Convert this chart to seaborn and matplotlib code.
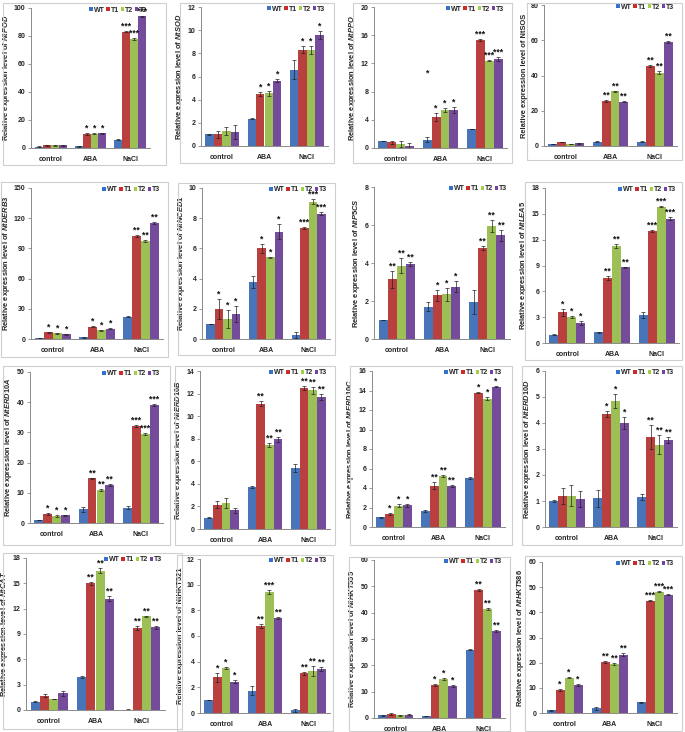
import matplotlib
matplotlib.use("Agg")
import matplotlib.pyplot as plt
import seaborn as sns
import pandas as pd
import numpy as np
from matplotlib.patches import Patch, Rectangle

sns.set_style("white")
plt.rcParams['font.family'] = ['Liberation Sans', 'DejaVu Sans']
plt.rcParams['font.weight'] = 'bold'
plt.rcParams['mathtext.fontset'] = 'custom'
plt.rcParams['mathtext.it'] = 'Liberation Sans:italic:bold'
plt.rcParams['mathtext.rm'] = 'Liberation Sans:bold'

treatments = ["control", "ABA", "NaCl"]
genotypes = ["WT", "T1", "T2", "T3"]
colores = ["#3571cc", "#cf2a2a", "#a2d244", "#763fa8"]

# valores: control(WT,T1,T2,T3), ABA(...), NaCl(...)
pod_mean = [1.0, 1.8, 1.8, 1.8, 1.2, 10.0, 10.2, 10.5, 6.0, 83.0, 78.0, 94.0]
pod_err = [0.1, 0.2, 0.2, 0.2, 0.2, 0.5, 0.3, 0.3, 0.4, 0.5, 0.6, 0.4]
pod_sig = ["", "", "", "", "", "*", "*", "*", "", "***", "***", "***"]

sod_mean = [1.0, 1.0, 1.3, 1.2, 2.35, 4.5, 4.55, 5.65, 6.6, 8.3, 8.3, 9.55]
sod_err = [0.03, 0.3, 0.35, 0.6, 0.03, 0.15, 0.2, 0.1, 0.8, 0.3, 0.35, 0.35]
sod_sig = ["", "", "", "", "", "*", "*", "*", "", "*", "*", "*"]

ppo_mean = [1.0, 0.8, 0.6, 0.35, 1.2, 4.4, 5.4, 5.4, 2.7, 15.3, 12.4, 12.6]
ppo_err = [0.05, 0.2, 0.4, 0.35, 0.4, 0.5, 0.3, 0.4, 0.05, 0.15, 0.05, 0.25]
ppo_sig = ["", "", "", "", "", "*", "*", "*", "", "***", "***", "***"]
# asterisco suelto sobre WT/ABA en NtPPO (indice de barra, altura)
ppo_extra = [(4, 10.0)]

sos_mean = [1.0, 2.2, 1.0, 1.5, 2.5, 25.5, 31.0, 25.0, 2.5, 45.5, 41.5, 59.0]
sos_err = [0.1, 0.2, 0.1, 0.2, 0.2, 0.4, 0.4, 0.3, 0.2, 0.4, 0.8, 0.4]
sos_sig = ["", "", "", "", "", "**", "**", "**", "", "**", "**", "**"]

derb3_mean = [1.0, 6.5, 5.5, 4.5, 1.5, 12.0, 8.5, 10.0, 22.0, 102.5, 97.5, 115.0]
derb3_err = [0.1, 0.4, 0.4, 0.4, 0.2, 0.5, 0.5, 0.5, 0.5, 0.8, 0.8, 0.8]
derb3_sig = ["", "*", "*", "*", "", "*", "*", "*", "", "**", "**", "**"]

nced1_mean = [1.0, 2.0, 1.35, 1.65, 3.8, 6.0, 5.4, 7.1, 0.25, 7.35, 9.1, 8.3]
nced1_err = [0.02, 0.65, 0.6, 0.55, 0.4, 0.3, 0.03, 0.5, 0.2, 0.05, 0.15, 0.1]
nced1_sig = ["", "*", "*", "*", "", "*", "*", "*", "", "***", "***", "***"]

p5cs_mean = [1.0, 3.15, 3.85, 3.95, 1.7, 2.3, 2.35, 2.75, 1.95, 4.8, 5.95, 5.45]
p5cs_err = [0.02, 0.45, 0.4, 0.1, 0.25, 0.3, 0.35, 0.3, 0.65, 0.1, 0.3, 0.3]
p5cs_sig = ["", "**", "**", "**", "", "*", "*", "*", "", "**", "**", "**"]

lea5_mean = [0.95, 3.55, 3.0, 2.35, 1.25, 7.55, 11.3, 8.8, 3.25, 13.0, 15.85, 14.45]
lea5_err = [0.05, 0.4, 0.15, 0.25, 0.05, 0.2, 0.25, 0.05, 0.35, 0.1, 0.1, 0.15]
lea5_sig = ["", "*", "*", "*", "", "**", "**", "**", "", "***", "***", "***"]

erd10a_mean = [1.0, 3.0, 2.2, 2.5, 4.5, 14.8, 11.0, 12.7, 5.1, 32.0, 29.5, 39.0]
erd10a_err = [0.1, 0.3, 0.3, 0.3, 0.7, 0.2, 0.3, 0.3, 0.5, 0.3, 0.2, 0.4]
erd10a_sig = ["", "*", "*", "*", "", "**", "**", "**", "", "***", "***", "***"]

erd10b_mean = [1.0, 2.15, 2.3, 1.65, 3.75, 11.1, 7.45, 7.95, 5.4, 12.5, 12.3, 11.7]
erd10b_err = [0.03, 0.3, 0.45, 0.2, 0.1, 0.2, 0.2, 0.2, 0.35, 0.2, 0.3, 0.25]
erd10b_sig = ["", "", "", "", "", "**", "**", "**", "", "**", "**", "**"]

erd10c_mean = [1.0, 1.35, 2.2, 2.25, 1.6, 4.25, 5.2, 4.2, 5.0, 13.75, 13.15, 14.4]
erd10c_err = [0.03, 0.1, 0.15, 0.15, 0.1, 0.35, 0.1, 0.1, 0.1, 0.05, 0.15, 0.05]
erd10c_sig = ["", "*", "*", "*", "", "**", "**", "**", "", "*", "*", "*"]

erd10d_mean = [1.0, 1.2, 1.2, 1.08, 1.1, 4.35, 4.85, 4.0, 1.15, 3.47, 3.17, 3.35]
erd10d_err = [0.02, 0.3, 0.4, 0.32, 0.33, 0.1, 0.27, 0.22, 0.12, 0.47, 0.38, 0.1]
erd10d_sig = ["", "", "", "", "", "*", "*", "*", "", "**", "**", "**"]

cat_mean = [1.0, 1.7, 1.3, 2.0, 3.9, 15.0, 16.5, 13.2, 0.05, 9.75, 11.1, 9.8]
cat_err = [0.05, 0.15, 0.05, 0.3, 0.15, 0.15, 0.3, 0.25, 0.02, 0.25, 0.05, 0.2]
cat_sig = ["", "", "", "", "", "**", "**", "**", "", "**", "**", "**"]

hkt521_mean = [1.0, 2.8, 3.5, 2.45, 1.75, 6.8, 9.4, 7.4, 0.2, 3.1, 3.25, 3.45]
hkt521_err = [0.02, 0.35, 0.05, 0.15, 0.35, 0.15, 0.15, 0.08, 0.15, 0.1, 0.4, 0.15]
hkt521_sig = ["", "*", "*", "*", "", "**", "***", "**", "", "**", "**", "**"]

hkt555_mean = [1.0, 1.5, 1.0, 1.3, 0.7, 12.5, 14.8, 12.2, 26.0, 48.5, 41.5, 33.0]
hkt555_err = [0.1, 0.3, 0.3, 0.3, 0.1, 0.3, 0.3, 0.3, 0.2, 0.3, 0.3, 0.4]
hkt555_sig = ["", "", "", "", "", "*", "*", "*", "", "**", "**", "**"]

hkt586_mean = [1.0, 9.3, 14.0, 11.3, 1.8, 20.2, 19.4, 23.2, 4.2, 44.6, 48.2, 47.0]
hkt586_err = [0.1, 0.4, 0.2, 0.4, 0.5, 0.4, 0.3, 0.6, 0.2, 0.2, 0.3, 0.2]
hkt586_sig = ["", "*", "*", "*", "", "**", "**", "**", "", "***", "***", "***"]

# (gen, cursiva, media, error, sig, extra, ymax, paso, ejes px, marco px)
paneles = [
    ("NtPOD", True, pod_mean, pod_err, pod_sig, [], 100, 20, (31, 8, 150, 148), (3, 3, 166, 165)),
    ("NtSOD", True, sod_mean, sod_err, sod_sig, [], 12, 2, (201, 7, 328, 146), (180, 3, 334, 163)),
    ("NtPPO", True, ppo_mean, ppo_err, ppo_sig, ppo_extra, 20, 4, (374, 7, 507, 148), (353, 3, 512, 163)),
    ("NtSOS", False, sos_mean, sos_err, sos_sig, [], 80, 20, (544, 5, 677, 146), (527, 3, 682, 160)),
    ("NtDERB3", True, derb3_mean, derb3_err, derb3_sig, [], 150, 30, (31, 188, 163, 339), (1, 182, 168, 357)),
    ("NtNCED1", True, nced1_mean, nced1_err, nced1_sig, [], 10, 2, (202, 188, 330, 339), (178, 183, 335, 355)),
    ("NtP5CS", True, p5cs_mean, p5cs_err, p5cs_sig, [], 8, 2, (374, 187, 510, 339), None),
    ("NtLEA5", True, lea5_mean, lea5_err, lea5_sig, [], 18, 3, (545, 188, 679, 343), (525, 182, 682, 360)),
    ("NtERD10A", True, erd10a_mean, erd10a_err, erd10a_sig, [], 50, 10, (30, 372, 163, 523), (3, 366, 170, 545)),
    ("NtERD10B", True, erd10b_mean, erd10b_err, erd10b_sig, [], 14, 2, (200, 371, 330, 529), (175, 366, 335, 545)),
    ("NtERD10C", True, erd10c_mean, erd10c_err, erd10c_sig, [], 16, 2, (372, 371, 505, 527), (350, 366, 512, 545)),
    ("NtERD10D", True, erd10d_mean, erd10d_err, erd10d_sig, [], 6, 1, (545, 371, 677, 527), (522, 366, 682, 545)),
    ("NtCAT", True, cat_mean, cat_err, cat_sig, [], 18, 3, (26, 558, 165, 710), (3, 553, 182, 729)),
    ("NtHKT521", False, hkt521_mean, hkt521_err, hkt521_sig, [], 12, 2, (200, 559, 330, 713), (177, 555, 333, 731)),
    ("NtHKT555", True, hkt555_mean, hkt555_err, hkt555_sig, [], 60, 10, (374, 560, 505, 718), (349, 557, 510, 731)),
    ("NtHKT586", True, hkt586_mean, hkt586_err, hkt586_sig, [], 60, 10, (542, 562, 677, 713), (525, 556, 682, 731)),
]

W, H = 685, 732
fig = plt.figure(figsize=(W / 100, H / 100), dpi=100)

for gen, cursiva, media, error, sig, extra, ymax, paso, caja, marco in paneles:
    if marco:
        x0, y0, x1, y1 = marco
        fig.patches.append(Rectangle((x0 / W, 1 - y1 / H), (x1 - x0) / W, (y1 - y0) / H,
                                     transform=fig.transFigure, fill=False,
                                     edgecolor="#cfcfcf", linewidth=0.8))
    l, t, r, b = caja
    ax = fig.add_axes([l / W, 1 - b / H, (r - l) / W, (b - t) / H])

    df = pd.DataFrame({"tratamiento": np.repeat(treatments, 4),
                       "linea": genotypes * 3,
                       "valor": media})
    sns.barplot(data=df, x="tratamiento", y="valor", hue="linea", palette=colores,
                errorbar=None, width=0.8, legend=False, ax=ax)

    centros = {}
    for hi, cont in enumerate(ax.containers):
        for ti, barra in enumerate(cont):
            centros[ti * 4 + hi] = barra.get_x() + barra.get_width() / 2
            barra.set_edgecolor("none")
    idx = np.array(sorted(centros))
    xs = np.array([centros[k] for k in idx])
    ax.errorbar(xs, np.array(media)[idx], yerr=np.array(error)[idx], fmt="none",
                ecolor="#222222", elinewidth=0.5, capsize=1.2, capthick=0.5)
    for x, k in zip(xs, idx):
        if sig[k]:
            ax.text(x, media[k] + error[k] + ymax * 0.003, sig[k], ha="center",
                    va="bottom", fontsize=6.2, fontweight="bold", color="#111111")
    for k, altura in extra:
        ax.text(centros[k], altura, "*", ha="center", va="bottom", fontsize=6.2,
                fontweight="bold", color="#111111")

    ax.set_ylim(0, ymax)
    ax.set_yticks(np.arange(0, ymax + paso / 2, paso))
    ax.set_xlim(-0.5, 2.5)
    ax.set_xticks([0.5 * i - 0.5 for i in range(0, 7, 2)], minor=True)
    ax.tick_params(axis="x", which="major", length=0, labelsize=5, pad=6)
    ax.tick_params(axis="x", which="minor", length=3, width=0.6, color="#8a8a8a", direction="out")
    ax.tick_params(axis="y", length=2.5, width=0.6, color="#8a8a8a", labelsize=5, pad=1.5, left=True)
    for lab in ax.get_xticklabels() + ax.get_yticklabels():
        lab.set_fontweight("bold")
    for lado in ["top", "right"]:
        ax.spines[lado].set_visible(False)
    for lado in ["left", "bottom"]:
        ax.spines[lado].set_color("#8a8a8a")
        ax.spines[lado].set_linewidth(0.7)

    nombre = r"$\mathit{" + gen + "}$" if cursiva else gen
    ax.set_xlabel("")
    ax.set_ylabel("Relative expression level of " + nombre, fontsize=5.4,
                  fontweight="bold", labelpad=1.5)

    manejadores = [Patch(facecolor=c, edgecolor="none") for c in colores]
    ax.legend(manejadores, genotypes, ncol=4, loc="upper right", bbox_to_anchor=(1.0, 1.03),
              frameon=False, handlelength=0.5, handleheight=0.5,
              handletextpad=0.12, columnspacing=0.25, borderaxespad=0,
              prop={"weight": "bold", "size": 5})

fig.savefig("out.png", dpi=100)
